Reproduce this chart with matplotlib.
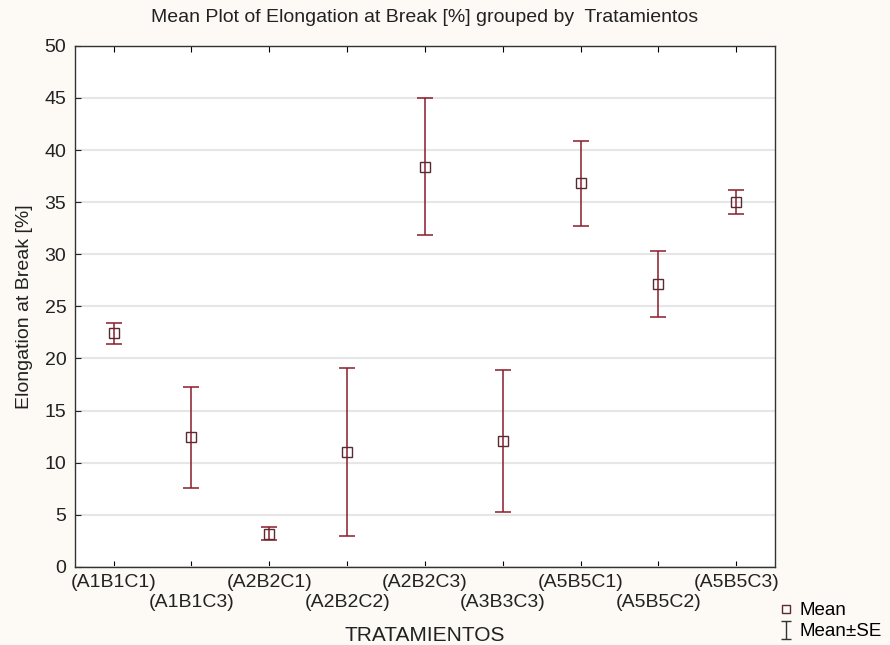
import numpy as np
import matplotlib.pyplot as plt
from matplotlib.lines import Line2D
from matplotlib.path import Path

plt.rcParams['font.family'] = ['Liberation Sans', 'DejaVu Sans']

tratamientos = ['(A1B1C1)', '(A1B1C3)', '(A2B2C1)', '(A2B2C2)', '(A2B2C3)',
                '(A3B3C3)', '(A5B5C1)', '(A5B5C2)', '(A5B5C3)']
means = [22.4, 12.5, 3.2, 11.0, 38.4, 12.1, 36.8, 27.1, 35.0]
lower = [21.4, 7.6, 2.6, 3.0, 31.8, 5.3, 32.7, 24.0, 33.9]
upper = [23.4, 17.3, 3.8, 19.1, 45.0, 18.9, 40.9, 30.3, 36.2]

x = np.arange(1, len(tratamientos) + 1)
means = np.array(means)
err = [means - np.array(lower), np.array(upper) - means]

fig = plt.figure(figsize=(8.9, 6.45), dpi=100, facecolor='#fdfaf5')
ax = fig.add_axes([0.084, 0.121, 0.787, 0.808])
ax.set_facecolor('white')

ec = '#8a1c2c'
ax.errorbar(x, means, yerr=err, fmt='none', ecolor=ec, elinewidth=1.1,
            capsize=6, capthick=1.1, zorder=3)
ax.plot(x, means, ls='none', marker='s', ms=7, mfc='none', mec='#5a2a30',
        mew=1.0, zorder=4)

ax.set_xlim(0.5, 9.5)
ax.set_ylim(0, 50)
ax.set_yticks(np.arange(0, 51, 5))
ax.yaxis.grid(True, color='#e6e6e6', lw=1.5)
ax.set_axisbelow(True)

# staggered labels, every second one on a lower row
labels = [t if i % 2 == 0 else '\n' + t for i, t in enumerate(tratamientos)]
ax.set_xticks(x)
ax.set_xticklabels(labels, fontsize=14, color='#222222', linespacing=1.25)
ax.tick_params(axis='x', direction='in', top=True, length=4, pad=5)
ax.tick_params(axis='y', direction='in', length=4, labelsize=14, colors='#222222', pad=6)
for s in ax.spines.values():
    s.set_color('#333333')
    s.set_linewidth(1.0)

ax.set_title('Mean Plot of Elongation at Break [%] grouped by  Tratamientos',
             fontsize=14, color='#222222', pad=17)
ax.set_ylabel('Elongation at Break [%]', fontsize=14, color='#222222', labelpad=8)
ax.set_xlabel('TRATAMIENTOS', fontsize=15, color='#222222', labelpad=11)

ibeam = Path([(-0.5, 1), (0.5, 1), (0, 1), (0, -1), (-0.5, -1), (0.5, -1)],
             [Path.MOVETO, Path.LINETO, Path.MOVETO, Path.LINETO, Path.MOVETO, Path.LINETO])
handles = [Line2D([], [], ls='none', marker='s', ms=6, mfc='none', mec='#5a2a30'),
           Line2D([], [], ls='none', marker=ibeam, ms=13, mec='#333333', mew=1.0)]
fig.legend(handles, ['Mean', 'Mean±SE'], loc='lower left',
           bbox_to_anchor=(0.862, -0.013), frameon=False, fontsize=13.5,
           handlelength=0.6, handletextpad=0.4, labelspacing=0.2, borderpad=0.2)

fig.savefig('out.png', dpi=100, facecolor=fig.get_facecolor())
